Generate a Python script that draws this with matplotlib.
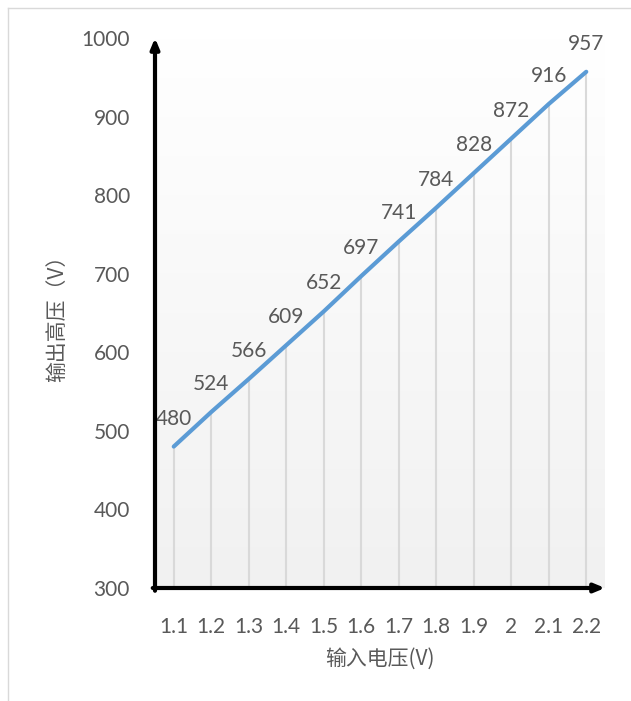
import numpy as np
import matplotlib
matplotlib.use('Agg')
import matplotlib.pyplot as plt
from matplotlib.lines import Line2D

# input voltage (V) and output high voltage (V)
vin_labels = ['1.1', '1.2', '1.3', '1.4', '1.5', '1.6', '1.7', '1.8', '1.9', '2', '2.1', '2.2']
vout = [480, 524, 566, 609, 652, 697, 741, 784, 828, 872, 916, 957]
yticks = [300, 400, 500, 600, 700, 800, 900, 1000]

plt.rcParams['font.family'] = ['Lato', 'Noto Sans CJK SC', 'DejaVu Sans']
gray = '#595959'

fig = plt.figure(figsize=(6.31, 7.01), dpi=100)
ax = fig.add_axes([155/631, 113/701, 450/631, 550/701])

x = np.arange(len(vout))
ax.set_xlim(-0.5, len(vout) - 0.5)
ax.set_ylim(300, 1000)

# plot area gradient, white at top to light gray at bottom
grad = np.linspace(1.0, 0.945, 256).reshape(-1, 1)
ax.imshow(np.dstack([grad, grad, grad]), extent=[-0.5, len(vout) - 0.5, 300, 1000],
          aspect='auto', zorder=0, interpolation='bilinear')

# drop lines
ax.vlines(x, 300, vout, color='#d9d9d9', lw=1.5, zorder=1)
ax.plot(x, vout, color='#5b9bd5', lw=3, solid_capstyle='round', zorder=3)

for xi, v in zip(x, vout):
    ax.annotate(str(v), (xi, v), xytext=(0, 13), textcoords='offset points',
                ha='center', va='bottom', fontsize=15, color=gray)

ax.set_xticks(x)
ax.set_xticklabels(vin_labels)
ax.set_yticks(yticks)
ax.tick_params(length=0, labelsize=15, labelcolor=gray)
ax.tick_params(axis='x', pad=21)
ax.tick_params(axis='y', pad=18)
for s in ax.spines.values():
    s.set_visible(False)

# axes with arrow heads
ax.annotate('', xy=(0, 1), xytext=(0, -0.005), xycoords='axes fraction',
            arrowprops=dict(arrowstyle='-|>,head_length=0.6,head_width=0.25', lw=3, color='black',
                            shrinkA=0, shrinkB=0), annotation_clip=False)
ax.annotate('', xy=(1, 0), xytext=(-0.005, 0), xycoords='axes fraction',
            arrowprops=dict(arrowstyle='-|>,head_length=0.6,head_width=0.25', lw=3, color='black',
                            shrinkA=0, shrinkB=0), annotation_clip=False)

ax.set_ylabel('输出高压（V）', fontsize=15, color=gray, labelpad=10,
              family=['Noto Sans CJK SC', 'DejaVu Sans'])
ax.set_xlabel('输入电压(V)', fontsize=15, color=gray, labelpad=8,
              family=['Noto Sans CJK SC', 'DejaVu Sans'])

# chart area border (left and top)
fig.add_artist(Line2D([8/631, 8/631], [1/701, 693/701], color='#d9d9d9', lw=1))
fig.add_artist(Line2D([8/631, 1], [693/701, 693/701], color='#d9d9d9', lw=1))

fig.savefig('out.png', dpi=100)
